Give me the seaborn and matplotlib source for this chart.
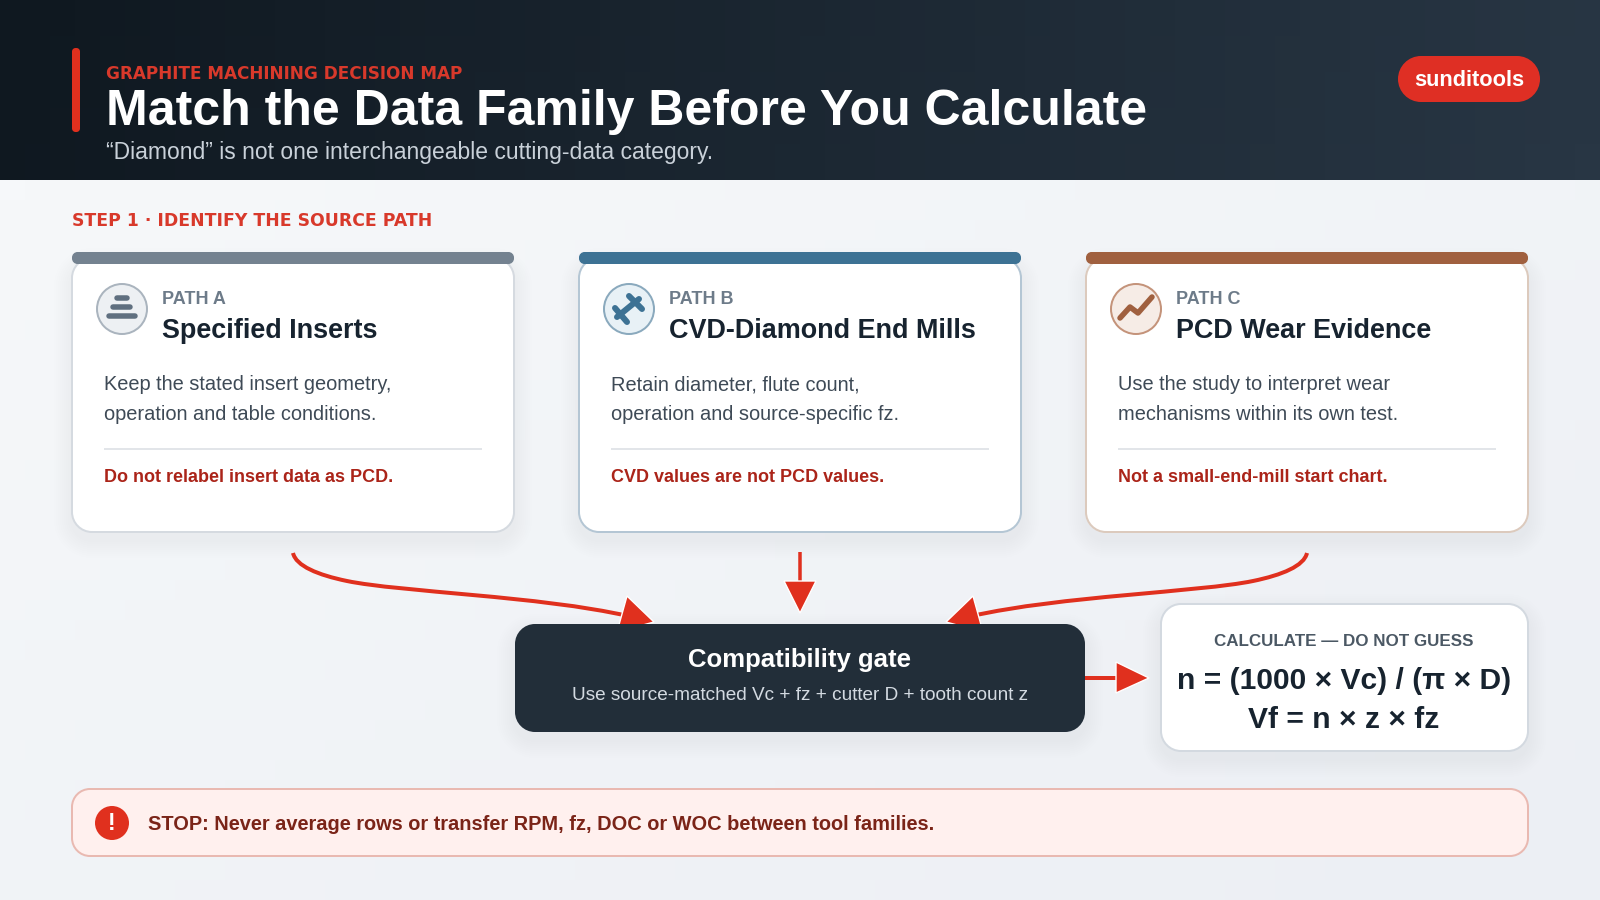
import numpy as np
import matplotlib
matplotlib.use("Agg")
import matplotlib.pyplot as plt
import seaborn as sns
from matplotlib.patches import Circle, Polygon, PathPatch
from matplotlib.path import Path

# --- text content ---
eyebrow = "GRAPHITE MACHINING DECISION MAP"
title = "Match the Data Family Before You Calculate"
subtitle = "\u201cDiamond\u201d is not one interchangeable cutting-data category."
brand = "sunditools"
step_label = "STEP 1 \u00b7 IDENTIFY THE SOURCE PATH"

path_labels = ["PATH A", "PATH B", "PATH C"]
path_titles = ["Specified Inserts", "CVD-Diamond End Mills", "PCD Wear Evidence"]
path_body = [
    ["Keep the stated insert geometry,", "operation and table conditions."],
    ["Retain diameter, flute count,", "operation and source-specific fz."],
    ["Use the study to interpret wear", "mechanisms within its own test."],
]
path_warn = [
    "Do not relabel insert data as PCD.",
    "CVD values are not PCD values.",
    "Not a small-end-mill start chart.",
]
accents = ["#748290", "#3d7294", "#a0603f"]
borders = ["#d5dae0", "#b4c6d4", "#dccabd"]
icon_fill = ["#edf0f3", "#e8f1f6", "#f6ece6"]
icon_ring = ["#aab4be", "#8aa9bd", "#c4937a"]

gate_title = "Compatibility gate"
gate_sub = "Use source-matched Vc + fz + cutter D + tooth count z"
calc_head = "CALCULATE \u2014 DO NOT GUESS"
calc_lines = ["n = (1000 \u00d7 Vc) / (\u03c0 \u00d7 D)", "Vf = n \u00d7 z \u00d7 fz"]
stop_text = "STOP: Never average rows or transfer RPM, fz, DOC or WOC between tool families."

RED = "#e0301e"
DARK = "#17232f"
FONT = "Liberation Sans"

sns.set_theme(style="white")
plt.rcParams["font.family"] = [FONT, "DejaVu Sans"]

fig = plt.figure(figsize=(16, 9), dpi=100)
ax = fig.add_axes([0, 0, 1, 1])
ax.set_xlim(0, 1600)
ax.set_ylim(900, 0)
ax.axis("off")
sns.despine(ax=ax, left=True, bottom=True)


def px(size):
    # sizes below are css-like pixels
    return size * 0.72


def box(x0, y0, x1, y1, r, fc, ec="none", lw=0, z=3):
    # real circular corners, FancyBboxPatch comes out too square
    k = r * (1 - 0.5523)
    verts = [(x0 + r, y0), (x1 - r, y0), (x1 - k, y0), (x1, y0 + k), (x1, y0 + r),
             (x1, y1 - r), (x1, y1 - k), (x1 - k, y1), (x1 - r, y1),
             (x0 + r, y1), (x0 + k, y1), (x0, y1 - k), (x0, y1 - r),
             (x0, y0 + r), (x0, y0 + k), (x0 + k, y0), (x0 + r, y0), (x0 + r, y0)]
    codes = [Path.MOVETO, Path.LINETO, Path.CURVE4, Path.CURVE4, Path.CURVE4,
             Path.LINETO, Path.CURVE4, Path.CURVE4, Path.CURVE4,
             Path.LINETO, Path.CURVE4, Path.CURVE4, Path.CURVE4,
             Path.LINETO, Path.CURVE4, Path.CURVE4, Path.CURVE4, Path.CLOSEPOLY]
    p = PathPatch(Path(verts, codes), fc=fc, ec=ec, lw=px(lw), zorder=z)
    ax.add_patch(p)
    return p


def shadow(x0, y0, x1, y1, r, dy=8, spread=18, alpha=0.005, z=2):
    for s in range(spread, 0, -2):
        p = box(x0 - s, y0 - s + dy, x1 + s, y1 + s + dy, r + s, "#33475b", z=z)
        p.set_alpha(alpha)


def label(x, y, s, size, color, weight="normal", ha="left", family=FONT, z=6):
    # va=center sits a little high because of the descender box
    ax.text(x, y + 4, s, fontsize=px(size), color=color, fontweight=weight, ha=ha, va="center",
            family=[family, "DejaVu Sans"], zorder=z)


def stroke(xs, ys, color, w, z=5, cap="round"):
    ax.plot(xs, ys, color=color, lw=px(w), solid_capstyle=cap, solid_joinstyle="round", zorder=z)


# --- backgrounds ---
xx, yy = np.meshgrid(np.linspace(0, 1, 64), np.linspace(0, 1, 36))
ax.imshow(xx + yy, extent=(0, 1600, 900, 180), aspect="auto", zorder=0,
          cmap=sns.blend_palette(["#f6f8fa", "#ecEff4"], as_cmap=True))
ax.imshow(xx[:5] + 0.15 * yy[:5], extent=(0, 1600, 180, 0), aspect="auto", zorder=0,
          cmap=sns.blend_palette(["#0f1820", "#283644"], as_cmap=True))
ax.set_xlim(0, 1600)
ax.set_ylim(900, 0)

# --- header ---
box(72, 48, 80, 132, 3.5, RED)
label(106, 70, eyebrow, 16.9, "#d8392b", "bold", family="DejaVu Sans")
label(106, 108, title, 50, "white", "bold")
label(106, 149, subtitle, 22.9, "#c9d1d9")
box(1398, 56, 1540, 102, 23, "#df2f24")
label(1469, 76, brand, 21.8, "white", "bold", ha="center")

label(72, 217, step_label, 17.3, "#d8392b", "bold", family="DejaVu Sans")

# --- path cards ---
for i in range(3):
    dx = 507 * i
    shadow(72 + dx, 258, 514 + dx, 532, 20)
    box(72 + dx, 258, 514 + dx, 532, 20, "white", borders[i], 2)
    box(72 + dx, 252, 514 + dx, 264, 5.5, accents[i], z=4)
    ax.add_patch(Circle((122 + dx, 309), 25, fc=icon_fill[i], ec=icon_ring[i], lw=px(2), zorder=4))
    label(162 + dx, 296, path_labels[i], 18, "#6d7b89", "bold")
    label(162 + dx, 327, path_titles[i], 27, DARK, "bold")
    label(104 + dx, 381, path_body[i][0], 20, "#3e4a56")
    label(104 + dx, 411, path_body[i][1], 20, "#3e4a56")
    stroke([104 + dx, 482 + dx], [449, 449], "#d9dde2", 1.5, cap="butt")
    label(104 + dx, 474, path_warn[i], 18, "#ab2419", "bold")

# icons
for y, x0, x1 in [(298, 117, 127), (307, 113, 130), (316, 108.5, 135)]:
    stroke([x0, x1], [y, y], "#5f6f7f", 5.5)
stroke([617, 639], [317, 299], accents[1], 6)
stroke([615, 627], [308, 322], accents[1], 6)
stroke([629, 642], [296, 309], accents[1], 6)
stroke([1120, 1130, 1138, 1152], [318, 307, 313, 297], accents[2], 5.5)

# --- arrows ---
codes = [Path.MOVETO, Path.CURVE4, Path.CURVE4, Path.CURVE4, Path.CURVE4, Path.CURVE4, Path.CURVE4]
curve_l = [(293, 553), (296, 566), (318, 575), (347, 581), (400, 592), (540, 596), (628, 616)]
curve_r = [(1600 - x, y) for x, y in curve_l]
for c in (curve_l, curve_r):
    ax.add_patch(PathPatch(Path(c, codes), fc="none", ec=RED, lw=px(4), zorder=3, capstyle="butt"))
ax.add_patch(Polygon([(627, 596), (654, 622), (617, 632)], fc=RED, zorder=3))
ax.add_patch(Polygon([(973, 596), (946, 622), (983, 632)], fc=RED, zorder=3))
stroke([800, 800], [552, 585], RED, 3.5, z=3, cap="butt")
ax.add_patch(Polygon([(784, 581), (816, 581), (800, 613)], fc=RED, zorder=3))
stroke([1085, 1118], [678, 678], RED, 4, z=3, cap="butt")
ax.add_patch(Polygon([(1116, 662), (1116, 693), (1149, 678)], fc=RED, zorder=3))

# --- gate + calculation ---
shadow(515, 624, 1085, 732, 20, z=2)
box(515, 624, 1085, 732, 20, "#222e39", z=4)
label(800, 656, gate_title, 25.8, "white", "bold", ha="center")
label(800, 691, gate_sub, 19, "#d3dae1", ha="center")

shadow(1161, 604, 1528, 751, 20, z=2)
box(1161, 604, 1528, 751, 20, "white", "#d3d9e0", 2)
label(1344, 638, calc_head, 17, "#4b5864", "bold", ha="center")
label(1344, 677, calc_lines[0], 30, DARK, "bold", ha="center")
label(1344, 716, calc_lines[1], 30, DARK, "bold", ha="center")

# --- stop banner ---
box(72, 789, 1528, 856, 18, "#fff0ee", "#e9b9b1", 2)
ax.add_patch(Circle((112, 823), 17, fc=RED, ec="none", zorder=4))
label(112, 820, "!", 23, "white", "bold", ha="center")
label(148, 821, stop_text, 20.05, "#7a2418", "bold")

fig.savefig("out.png", dpi=100)
